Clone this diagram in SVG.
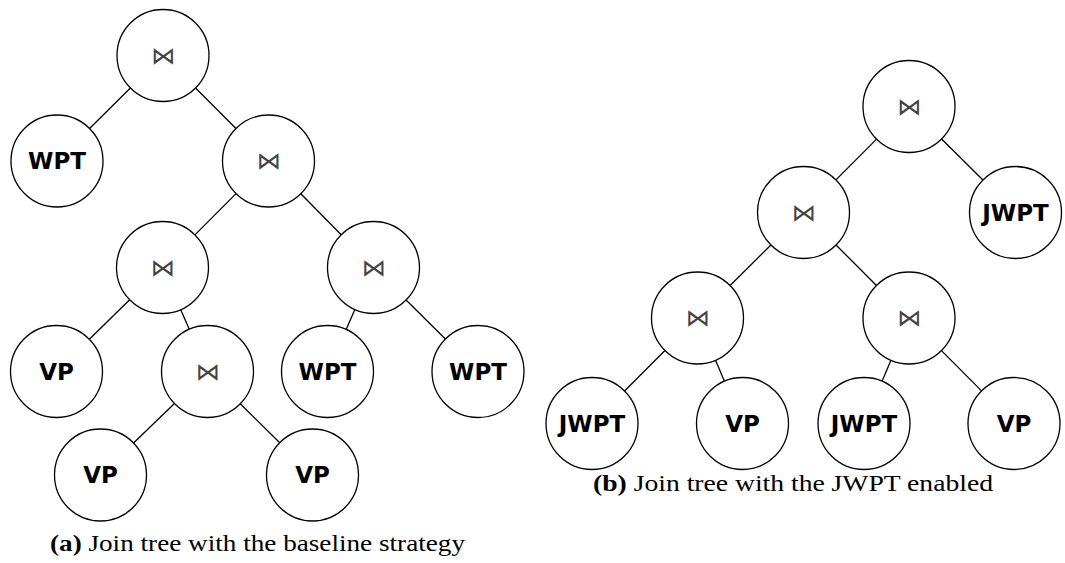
<svg xmlns="http://www.w3.org/2000/svg" width="1065" height="563" viewBox="0 0 1065 563">
<style>
  .n circle { fill: #fff; stroke: #000; stroke-width: 1.3; }
  .lbl { font-family: "DejaVu Sans", sans-serif; font-weight: bold; font-size: 23px; text-anchor: middle; fill: #000; }
  .join { font-family: "DejaVu Sans", sans-serif; font-size: 24px; text-anchor: middle; fill: #444; dominant-baseline: central; }
  #edges line { stroke: #000; stroke-width: 1.3; }
  .cap { font-family: "Liberation Serif", serif; font-size: 24px; fill: #000; }
</style>
<rect width="1065" height="563" fill="#fff"/>
<g id="edges">
  <line x1="130.4" y1="87.95" x2="89.6" y2="128.55"/>
  <line x1="195.53" y1="88.03" x2="235.97" y2="128.47"/>
  <line x1="236.05" y1="193.6" x2="194.95" y2="234.9"/>
  <line x1="300.8" y1="193.76" x2="341.2" y2="234.74"/>
  <line x1="129.66" y1="299.72" x2="89.34" y2="339.28"/>
  <line x1="180.77" y1="309.72" x2="189.23" y2="329.28"/>
  <line x1="354.89" y1="309.57" x2="346.11" y2="329.43"/>
  <line x1="406.1" y1="299.95" x2="445.4" y2="339.05"/>
  <line x1="174.44" y1="403.48" x2="133.56" y2="443.02"/>
  <line x1="240.26" y1="403.79" x2="279.74" y2="442.71"/>
  <line x1="876.55" y1="139.1" x2="835.95" y2="179.9"/>
  <line x1="941.6" y1="138.95" x2="982.9" y2="180.05"/>
  <line x1="770.9" y1="244.95" x2="730.1" y2="285.55"/>
  <line x1="836.03" y1="245.03" x2="876.47" y2="285.47"/>
  <line x1="664.97" y1="350.53" x2="624.53" y2="390.97"/>
  <line x1="715.55" y1="360.31" x2="724.45" y2="381.19"/>
  <line x1="890.95" y1="360.31" x2="882.05" y2="381.19"/>
  <line x1="941.45" y1="350.6" x2="981.55" y2="390.9"/>
</g>
<g id="a0" class="n"><circle cx="163" cy="55.5" r="46"/><text class="join" x="163" y="55.5">⋈</text></g>
<g id="a1" class="n"><circle cx="57" cy="161" r="46"/><text class="lbl" x="57" y="169.4">WPT</text></g>
<g id="a2" class="n"><circle cx="268.5" cy="161" r="46"/><text class="join" x="268.5" y="161">⋈</text></g>
<g id="a3" class="n"><circle cx="162.5" cy="267.5" r="46"/><text class="join" x="162.5" y="267.5">⋈</text></g>
<g id="a4" class="n"><circle cx="373.5" cy="267.5" r="46"/><text class="join" x="373.5" y="267.5">⋈</text></g>
<g id="a5" class="n"><circle cx="56.5" cy="371.5" r="46"/><text class="lbl" x="56.5" y="379.9">VP</text></g>
<g id="a6" class="n"><circle cx="207.5" cy="371.5" r="46"/><text class="join" x="207.5" y="371.5">⋈</text></g>
<g id="a7" class="n"><circle cx="327.5" cy="371.5" r="46"/><text class="lbl" x="327.5" y="379.9">WPT</text></g>
<g id="a8" class="n"><circle cx="478" cy="371.5" r="46"/><text class="lbl" x="478" y="379.9">WPT</text></g>
<g id="a9" class="n"><circle cx="100.5" cy="475" r="46"/><text class="lbl" x="100.5" y="483.4">VP</text></g>
<g id="a10" class="n"><circle cx="312.5" cy="475" r="46"/><text class="lbl" x="312.5" y="483.4">VP</text></g>
<g id="b0" class="n"><circle cx="909" cy="106.5" r="46"/><text class="join" x="909" y="106.5">⋈</text></g>
<g id="b1" class="n"><circle cx="803.5" cy="212.5" r="46"/><text class="join" x="803.5" y="212.5">⋈</text></g>
<g id="b2" class="n"><circle cx="1015.5" cy="212.5" r="46"/><text class="lbl" x="1015.5" y="220.9">JWPT</text></g>
<g id="b3" class="n"><circle cx="697.5" cy="318" r="46"/><text class="join" x="697.5" y="318">⋈</text></g>
<g id="b4" class="n"><circle cx="909" cy="318" r="46"/><text class="join" x="909" y="318">⋈</text></g>
<g id="b5" class="n"><circle cx="592" cy="423.5" r="46"/><text class="lbl" x="592" y="431.9">JWPT</text></g>
<g id="b6" class="n"><circle cx="742.5" cy="423.5" r="46"/><text class="lbl" x="742.5" y="431.9">VP</text></g>
<g id="b7" class="n"><circle cx="864" cy="423.5" r="46"/><text class="lbl" x="864" y="431.9">JWPT</text></g>
<g id="b8" class="n"><circle cx="1014" cy="423.5" r="46"/><text class="lbl" x="1014" y="431.9">VP</text></g>
<text class="cap" x="50" y="551" textLength="415" lengthAdjust="spacingAndGlyphs"><tspan font-weight="bold">(a)</tspan> Join tree with the baseline strategy</text>
<text class="cap" x="593" y="491" textLength="400" lengthAdjust="spacingAndGlyphs"><tspan font-weight="bold">(b)</tspan> Join tree with the JWPT enabled</text>
</svg>
